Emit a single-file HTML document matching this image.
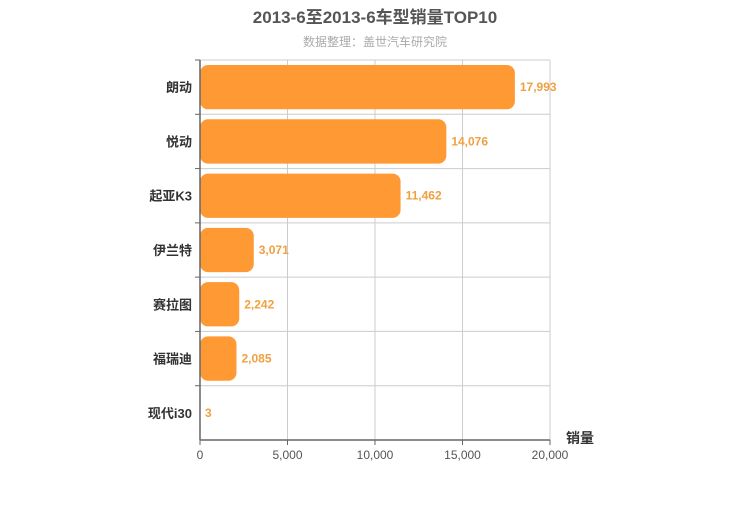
<!DOCTYPE html>
<html><head><meta charset="utf-8"><style>
body{margin:0;background:#fff;font-family:"Liberation Sans","Noto Sans CJK SC",sans-serif;}
</style></head><body>
<svg id="c" width="750" height="500" xmlns="http://www.w3.org/2000/svg" style="font-family:'Liberation Sans','Noto Sans CJK SC',sans-serif">
<text x="375" y="23" text-anchor="middle" font-size="17" font-weight="bold" fill="#555">2013-6至2013-6车型销量TOP10</text>
<text x="375" y="46" text-anchor="middle" font-size="12" fill="#aaa">数据整理：盖世汽车研究院</text>
<g id="grid"></g><g id="bars"></g><g id="axes"></g>
<text x="580" y="443" text-anchor="middle" font-size="14" fill="#333" font-weight="bold">销量</text>
</svg>
<script>
const categories=["朗动","悦动","起亚K3","伊兰特","赛拉图","福瑞迪","现代i30"];
const values=[17993,14076,11462,3071,2242,2085,3];
const ticks=[0,5000,10000,15000,20000];
const tickLabels=["0","5,000","10,000","15,000","20,000"];
const ns="http://www.w3.org/2000/svg";
const X0=200,X1=550,Y0=60,Y1=440,max=20000;
const x=v=>X0+(v/max)*(X1-X0);
const band=(Y1-Y0)/categories.length;
function mk(t,a,p){const e=document.createElementNS(ns,t);for(const k in a)e.setAttribute(k,a[k]);p.appendChild(e);return e;}
const grid=document.getElementById('grid'),bars=document.getElementById('bars'),axes=document.getElementById('axes');
ticks.forEach((t,i)=>{
 const l=mk('line',{x1:x(t),x2:x(t),y1:Y0,y2:Y1,stroke:'#ccc'},grid);
 
 
 const tk=mk('line',{x1:x(t),x2:x(t),y1:Y1,y2:Y1+5,stroke:'#666'},axes);
 
 
 const tx=mk('text',{x:x(t),y:Y1+19,'text-anchor':'middle','font-size':12,fill:'#555'},axes);
 tx.textContent=tickLabels[i];
 
 
});
categories.forEach((c,i)=>{
 const yt=Y0+i*band;
 const hl=mk('line',{x1:X0,x2:X1,y1:yt,y2:yt,stroke:'#ccc'},grid);
 
 
 const tk=mk('line',{x1:X0-5,x2:X0,y1:yt,y2:yt,stroke:'#666'},axes);
 
 
 const w=x(values[i])-X0;
 const r=mk('rect',{x:X0,y:yt+5,width:w,height:band-10,rx:Math.min(8,w/2),fill:'#ff9933'},bars);
 
 
 const lb=mk('text',{x:X0+w+5,y:yt+band/2+4,'font-size':12,fill:'#f0a040','font-weight':'bold'},bars);
 lb.textContent=values[i].toLocaleString('en-US');
 
 
 const cl=mk('text',{x:X0-8,y:yt+band/2+5,'text-anchor':'end','font-size':13,fill:'#333','font-weight':'bold'},axes);
 cl.textContent=c;
 
 
});
const ya=mk('line',{x1:X0,x2:X0,y1:Y0,y2:Y1,stroke:'#666','stroke-width':1.5},axes);


const xa=mk('line',{x1:X0,x2:X1,y1:Y1,y2:Y1,stroke:'#666','stroke-width':1.5},axes);


</script>
</body></html>
